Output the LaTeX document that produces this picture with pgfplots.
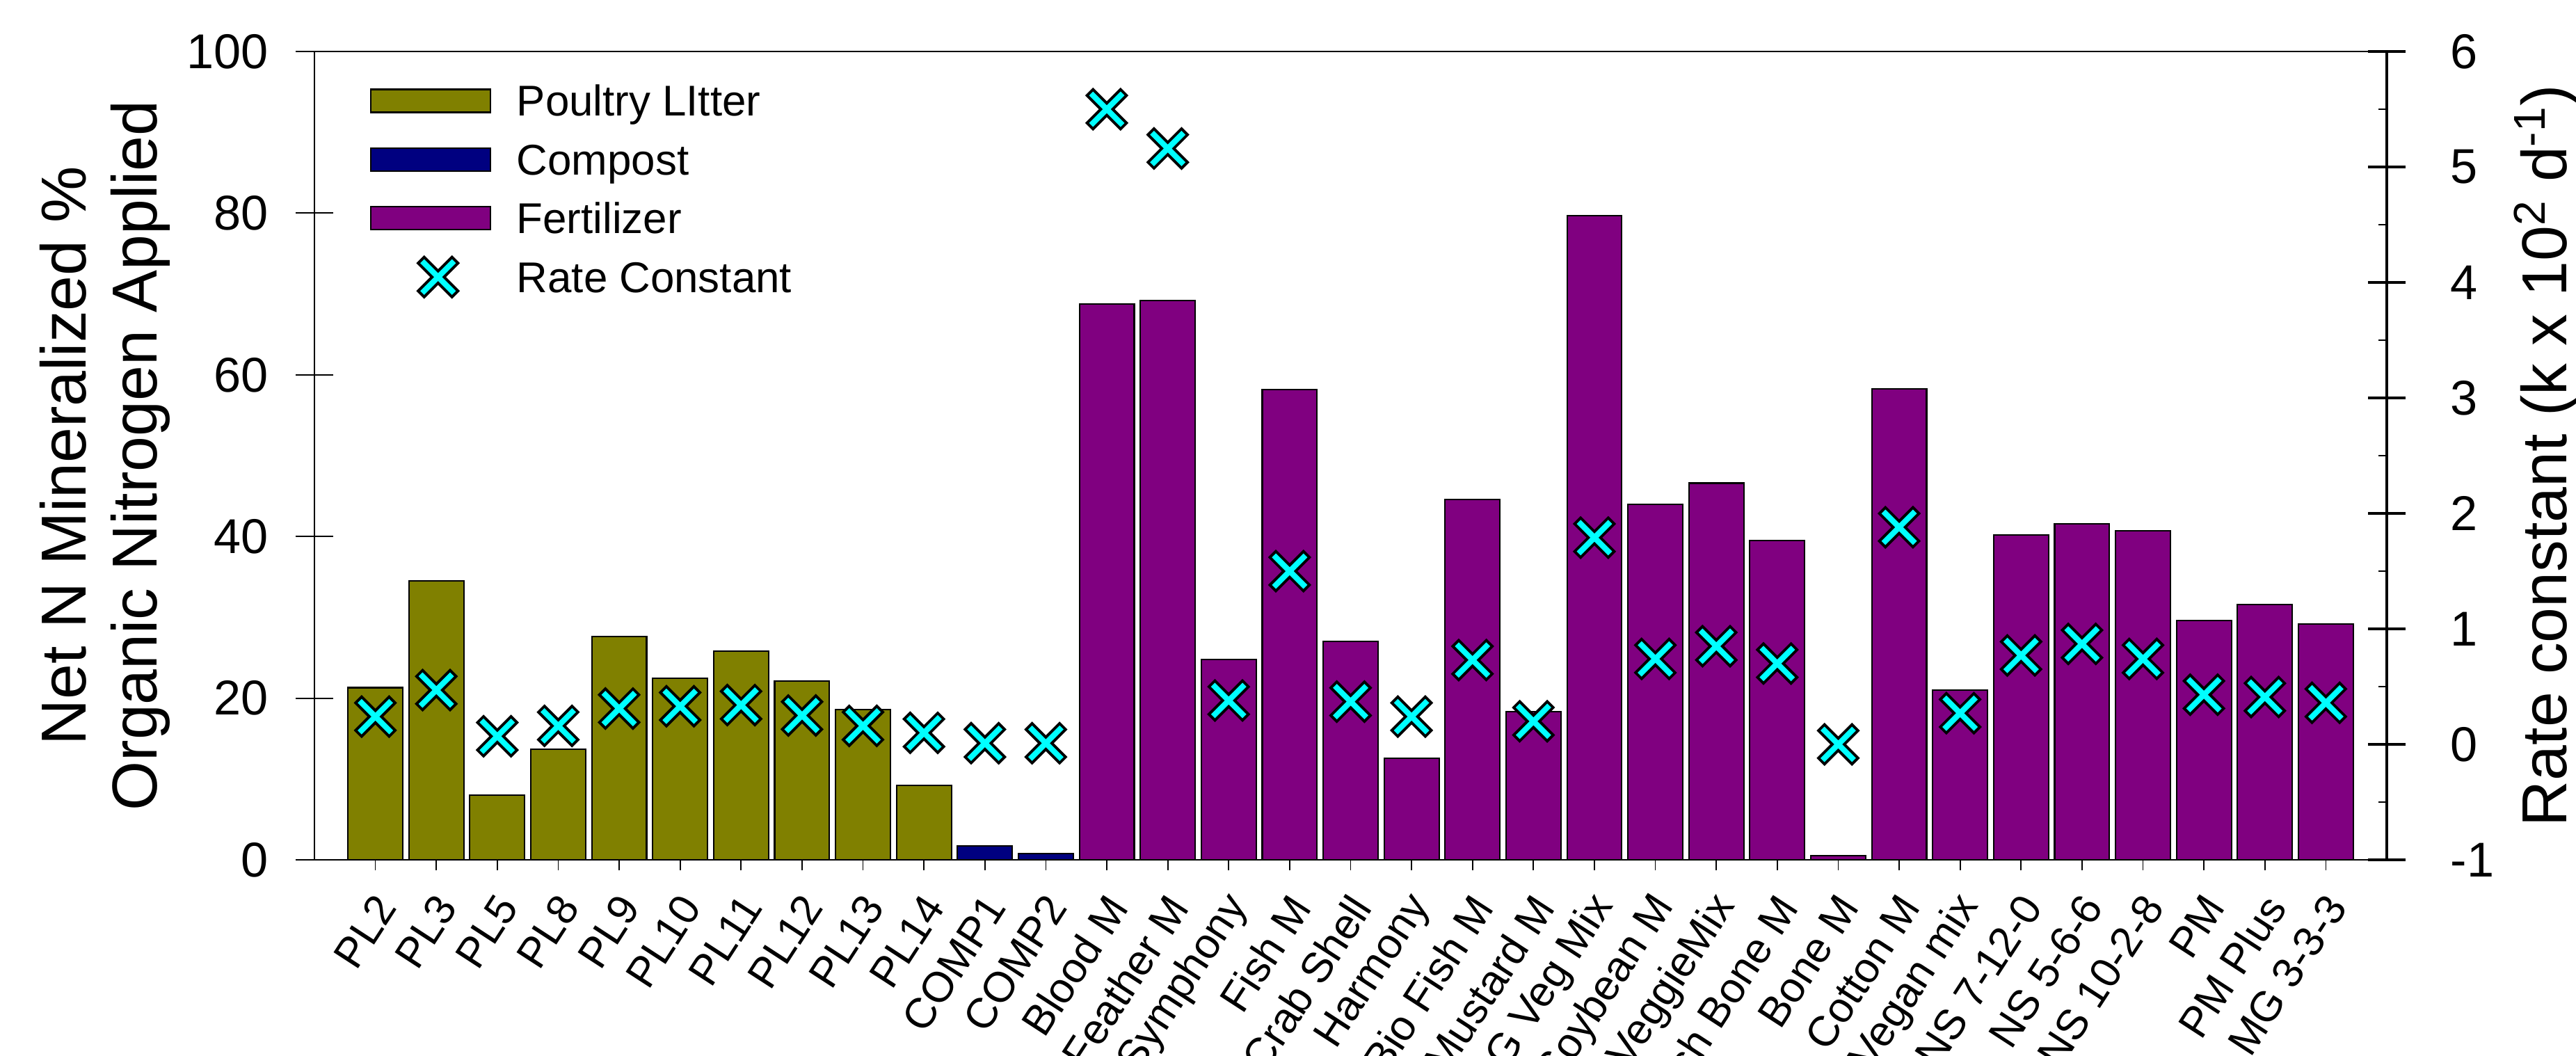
\documentclass[border=0pt]{standalone}
\usepackage{fontspec}
\setmainfont{Liberation Sans}
\usepackage{pgfplots}
\pgfplotsset{compat=1.18}
\definecolor{olivebar}{RGB}{128,128,0}
\definecolor{navybar}{RGB}{0,0,128}
\definecolor{purplebar}{RGB}{128,0,128}
\definecolor{cyanmk}{RGB}{0,255,255}
\pgfplotsset{
  common/.style={scale only axis, width=29.79cm, height=11.62cm, xmin=-1, xmax=33},
}
\begin{document}
\begin{tikzpicture}
\path[use as bounding box] (-4.52,-2.81) rectangle (32.51,12.36);
\clip (-4.52,-2.81) rectangle (32.51,12.36);
% bars and x axis
\begin{axis}[common, ymin=0, ymax=100,
  axis line style={line width=0.6pt},
  xtick={0,...,32},
  xticklabels={PL2,PL3,PL5,PL8,PL9,PL10,PL11,PL12,PL13,PL14,COMP1,COMP2,Blood M,Feather M,Symphony,Fish M,Crab Shell,Harmony,Bio Fish M,Mustard M,MG Veg Mix,Soybean M,VeggieMix,Fish Bone M,Bone M,Cotton M,Vegan mix,NS 7-12-0,NS 5-6-6,NS 10-2-8,PM,PM Plus,MG 3-3-3},
  xtick pos=bottom, ytick=\empty,
  tick align=outside, major tick length=0.15cm,
  x tick style={line width=0.5pt, black},
  xticklabel style={xshift=0.15cm, yshift=-0.42cm, rotate=57, anchor=east, inner sep=0pt, font=\fontsize{17.4}{20}\selectfont},
]
\addplot[ybar, bar width=0.9, bar shift=0pt, fill=olivebar, draw=black, line width=0.6pt] coordinates {
(0,21.3) (1,34.5) (2,8.0) (3,13.7) (4,27.6) (5,22.5) (6,25.8) (7,22.1) (8,18.6) (9,9.2)};
\addplot[ybar, bar width=0.9, bar shift=0pt, fill=navybar, draw=black, line width=0.6pt] coordinates {
(10,1.7) (11,0.8)};
\addplot[ybar, bar width=0.9, bar shift=0pt, fill=purplebar, draw=black, line width=0.6pt] coordinates {
(12,68.8) (13,69.2) (14,24.8) (15,58.2) (16,27.0) (17,12.6) (18,44.6) (19,18.3) (20,79.7) (21,44.0) (22,46.6) (23,39.5) (24,0.5) (25,58.3) (26,21.0) (27,40.2) (28,41.6) (29,40.7) (30,29.6) (31,31.6) (32,29.2)};
\end{axis}
% left y axis
\begin{axis}[common, ymin=0, ymax=100,
  axis x line=none, axis y line*=left,
  axis line style={line width=0.6pt},
  ytick={0,20,...,100}, tick align=center, major tick length=0.54cm,
  y tick style={line width=0.6pt, black},
  /pgf/number format/assume math mode=true,
  yticklabel style={font=\fontsize{20}{24}\selectfont, inner sep=0pt, anchor=east, xshift=-0.39cm},
  ylabel={Net N Mineralized \%\\Organic Nitrogen Applied},
  ylabel style={align=center, font=\fontsize{26}{29}\selectfont, at={(axis description cs:-0.0695,0.5)}, anchor=south, inner sep=0pt},
]
\end{axis}
% right axis with rate constants
\begin{axis}[common, ymin=-1, ymax=6,
  axis x line=none, axis y line*=right,
  y axis line style={line width=1.34pt},
  ytick={-1,0,...,6}, tick align=center, major tick length=0.54cm,
  y tick style={line width=1.34pt, black},
  extra y ticks={-0.5,0.5,1.5,2.5,3.5,4.5,5.5},
  extra y tick labels={},
  extra y tick style={tick align=inside, major tick length=0.12cm, y tick style={line width=0.5pt}},
  /pgf/number format/assume math mode=true,
  yticklabel style={font=\fontsize{20}{24}\selectfont, inner sep=0pt, anchor=west, xshift=0.64cm},
  ylabel={Rate constant (k x 10\textsuperscript{2} d\textsuperscript{-1})},
  ylabel style={font=\fontsize{26}{29}\selectfont, at={(axis description cs:1.0869,0.5)}, anchor=base, inner sep=0pt},
  legend style={at={(axis description cs:0.0265,0.963)}, anchor=north west, draw=none, fill=none, inner sep=0pt, row sep=0.297cm, column sep=0.37cm, font=\fontsize{17.6}{20}\selectfont, nodes={inner sep=0pt}},
  legend cell align=left,
]
\addlegendimage{legend image code/.code={\draw[fill=olivebar, draw=black, line width=0.6pt] (0cm,-0.165cm) rectangle (1.72cm,0.165cm);}}
\addlegendentry{\strut Poultry LItter}
\addlegendimage{legend image code/.code={\draw[fill=navybar, draw=black, line width=0.6pt] (0cm,-0.165cm) rectangle (1.72cm,0.165cm);}}
\addlegendentry{\strut Compost}
\addlegendimage{legend image code/.code={\draw[fill=purplebar, draw=black, line width=0.6pt] (0cm,-0.165cm) rectangle (1.72cm,0.165cm);}}
\addlegendentry{\strut Fertilizer}
\addplot[only marks, mark=x, mark size=0.28cm, mark options={line width=0.16cm, line cap=rect, draw=black}, forget plot] coordinates {
(0,0.24) (1,0.47) (2,0.07) (3,0.16) (4,0.31) (5,0.33) (6,0.34) (7,0.25) (8,0.16) (9,0.10) (10,0.01) (11,0.01) (12,5.50) (13,5.16) (14,0.38) (15,1.50) (16,0.37) (17,0.24) (18,0.73) (19,0.20) (20,1.79) (21,0.74) (22,0.85) (23,0.70) (24,0.0) (25,1.88) (26,0.27) (27,0.77) (28,0.87) (29,0.74) (30,0.43) (31,0.41) (32,0.36)};
\addplot[only marks, mark=x, mark size=0.28cm, mark options={line width=0.08cm, line cap=rect, draw=cyanmk},
  legend image code/.code={
    \path[draw=none, fill=none] (0cm,-0.165cm) rectangle (1.72cm,0.165cm);
    \draw[black, line width=0.16cm, line cap=rect] (0.77cm,-0.2cm) -- (1.17cm,0.2cm) (0.77cm,0.2cm) -- (1.17cm,-0.2cm);
    \draw[cyanmk, line width=0.08cm, line cap=rect] (0.77cm,-0.2cm) -- (1.17cm,0.2cm) (0.77cm,0.2cm) -- (1.17cm,-0.2cm);
  }] coordinates {
(0,0.24) (1,0.47) (2,0.07) (3,0.16) (4,0.31) (5,0.33) (6,0.34) (7,0.25) (8,0.16) (9,0.10) (10,0.01) (11,0.01) (12,5.50) (13,5.16) (14,0.38) (15,1.50) (16,0.37) (17,0.24) (18,0.73) (19,0.20) (20,1.79) (21,0.74) (22,0.85) (23,0.70) (24,0.0) (25,1.88) (26,0.27) (27,0.77) (28,0.87) (29,0.74) (30,0.43) (31,0.41) (32,0.36)};
\addlegendentry{\strut Rate Constant}
\end{axis}
\end{tikzpicture}
\end{document}
